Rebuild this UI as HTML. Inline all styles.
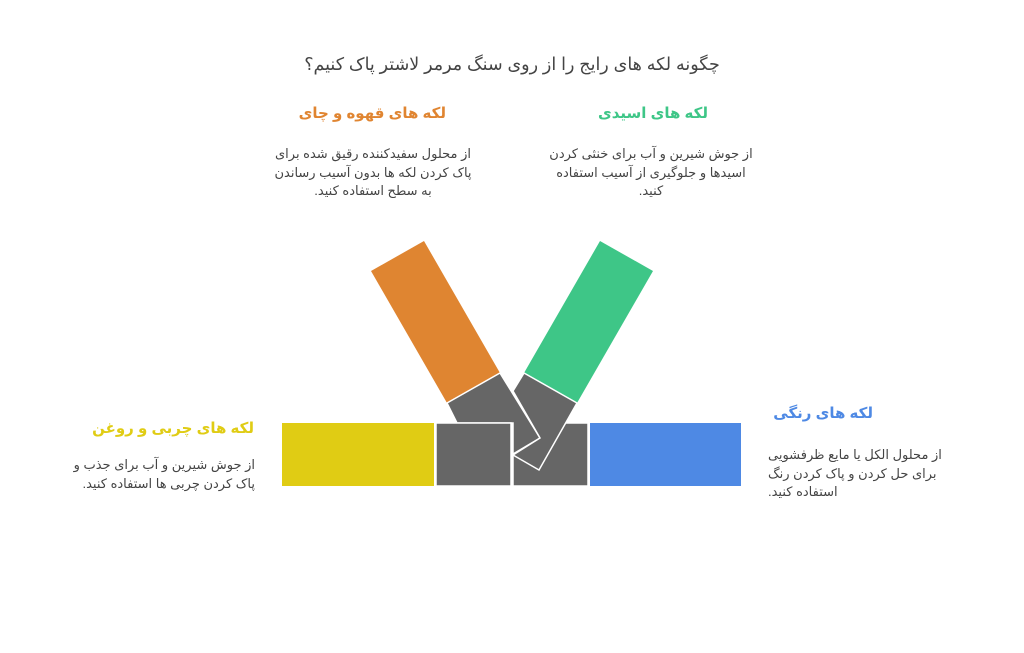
<!DOCTYPE html>
<html><head><meta charset="utf-8"><style>
html,body{margin:0;padding:0;background:#fff;width:1024px;height:653px;overflow:hidden;position:relative;font-family:"Liberation Sans","Noto Sans CJK SC","DejaVu Sans",sans-serif;}
.t{position:absolute;direction:rtl;white-space:nowrap;}
.h{font-weight:bold;font-size:15px;}
.b{font-size:13px;color:#444;line-height:18.5px;}
</style></head><body>
<svg width="1024" height="653" style="position:absolute;left:0;top:0">
<polygon points="371,271 424,241 500,373 447,403" fill="#df8531"/>
<polygon points="524,373 600,241 653,271 577,403" fill="#3ec687"/>
<rect x="282" y="423" width="152" height="63" fill="#e0cc14"/>
<rect x="590" y="423" width="151" height="63" fill="#4e89e4"/>
<rect x="513" y="423" width="75" height="63" fill="#666" stroke="#fff" stroke-width="1.5"/>
<polygon points="447,403 500,373 540,438 513,454 513,423 457,423" fill="#666" stroke="#fff" stroke-width="1.5"/>
<rect x="436" y="423" width="75" height="63" fill="#666" stroke="#fff" stroke-width="1.5"/>
<polygon points="513,391 524,373 577,403 539,470 513,455 540,438" fill="#666" stroke="#fff" stroke-width="1.5"/>
</svg>
<div class="t" style="left:260px;width:504px;top:54px;text-align:center;font-size:17.5px;color:#444;">چگونه لکه های رایج را از روی سنگ مرمر لاشتر پاک کنیم؟</div>
<div class="t h" style="right:578px;top:104px;color:#e08531;">لکه های قهوه و چای</div>
<div class="t h" style="right:316px;top:104px;color:#3ec687;">لکه های اسیدی</div>
<div class="t b" style="left:253px;width:240px;top:145px;text-align:center;">از محلول سفیدکننده رقیق شده برای<br>پاک کردن لکه ها بدون آسیب رساندن<br>به سطح استفاده کنید.</div>
<div class="t b" style="left:531px;width:240px;top:145px;text-align:center;">از جوش شیرین و آب برای خنثی کردن<br>اسیدها و جلوگیری از آسیب استفاده<br>کنید.</div>
<div class="t h" style="right:770px;top:419px;color:#e0cc14;">لکه های چربی و روغن</div>
<div class="t b" style="right:769px;top:456px;text-align:right;">از جوش شیرین و آب برای جذب و<br>پاک کردن چربی ها استفاده کنید.</div>
<div class="t h" style="right:151px;top:404px;color:#4e89e4;">لکه های رنگی</div>
<div class="t b" style="left:768px;width:180px;top:446px;text-align:left;direction:rtl;">از محلول الکل یا مایع ظرفشویی<br>برای حل کردن و پاک کردن رنگ<br><span style="display:block;text-align:left">استفاده کنید.</span></div>
</body></html>
